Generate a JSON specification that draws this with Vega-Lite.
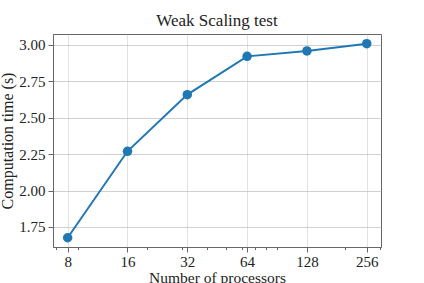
{
  "$schema": "https://vega.github.io/schema/vega-lite/v6.json",
  "autosize": {"type": "none"},
  "width": 328,
  "height": 213,
  "padding": {"left": 53, "top": 34, "right": 43, "bottom": 36},
  "background": "white",
  "title": {"text": "Weak Scaling test", "font": "Liberation Serif", "fontSize": 17, "fontWeight": "normal", "color": "#222", "offset": 4},
  "config": {
    "view": {"stroke": "#666", "strokeWidth": 1},
    "axis": {"labelFont": "Liberation Serif", "titleFont": "Liberation Serif", "labelFontSize": 15, "titleFontSize": 16, "titleFontWeight": "normal", "labelColor": "#222", "titleColor": "#222", "domainColor": "#666", "tickColor": "#666", "gridColor": "#b0b0b0", "gridOpacity": 0.6}
  },
  "data": {"values": [
    {"p": 8, "t": 1.676},
    {"p": 16, "t": 2.27},
    {"p": 32, "t": 2.659},
    {"p": 64, "t": 2.922},
    {"p": 128, "t": 2.959},
    {"p": 256, "t": 3.009}
  ]},
  "encoding": {
    "x": {"field": "p", "type": "quantitative",
      "scale": {"type": "log", "base": 2, "domain": [6.75, 302], "nice": false, "zero": false},
      "axis": {"title": "Number of processors", "titleFontSize": 15.5,
        "values": [7, 8, 9, 16, 20, 30, 32, 40, 50, 60, 64, 70, 80, 90, 128, 200, 256, 300],
        "labelExpr": "indexof([8,16,32,64,128,256], datum.value) >= 0 ? datum.value : ''",
        "tickSize": {"condition": {"test": "indexof([8,16,32,64,128,256], datum.value) >= 0", "value": 5}, "value": 2.5},
        "gridOpacity": {"condition": {"test": "indexof([8,16,32,64,128,256], datum.value) >= 0", "value": 0.6}, "value": 0},
        "labelPadding": 2, "titlePadding": 1, "labelFlush": false, "labelOverlap": false}},
    "y": {"field": "t", "type": "quantitative",
      "scale": {"domain": [1.6126, 3.0755], "nice": false, "zero": false},
      "axis": {"title": "Computation time (s)", "values": [1.75, 2.0, 2.25, 2.5, 2.75, 3.0], "format": ".2f", "tickSize": 5, "labelPadding": 3, "titlePadding": 3}}
  },
  "layer": [
    {"mark": {"type": "line", "color": "#1f77b4", "strokeWidth": 2}},
    {"mark": {"type": "point", "filled": true, "color": "#1f77b4", "size": 90, "opacity": 1}}
  ]
}
